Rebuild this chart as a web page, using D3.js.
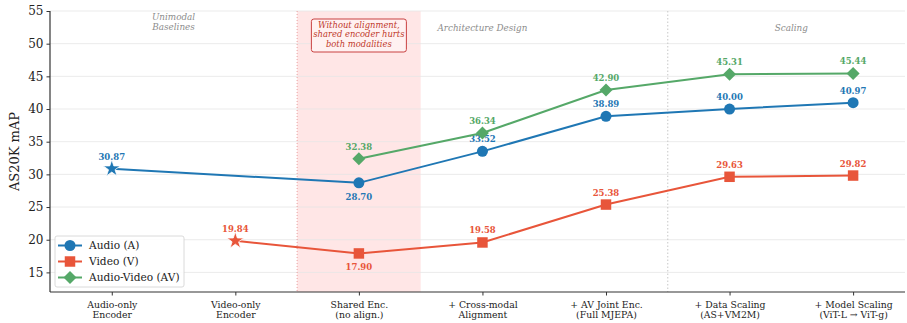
<!DOCTYPE html>
<html>
<head>
<meta charset="utf-8" />
<title>AS20K mAP</title>
<script src="https://d3js.org/d3.v7.min.js"></script>
<style>
body { margin: 0; background: #fff; }
svg, svg text { font-family: "DejaVu Serif", serif; }
.grid line { stroke: #e6e6e6; stroke-width: 0.8px; }
.axis path, .axis line { stroke: #333; }
.axis text { fill: #222; font-family: "DejaVu Serif", serif; }
</style>
</head>
<body>
<div id="chart"></div>
<script>
var stages = [
    ["Audio-only", "Encoder"],
    ["Video-only", "Encoder"],
    ["Shared Enc.", "(no align.)"],
    ["+ Cross-modal", "Alignment"],
    ["+ AV Joint Enc.", "(Full MJEPA)"],
    ["+ Data Scaling", "(AS+VM2M)"],
    ["+ Model Scaling", "(ViT-L \u2192 ViT-g)"]
];
var audioVals = [30.87, null, 28.70, 33.52, 38.89, 40.00, 40.97];
var videoVals = [null, 19.84, 17.90, 19.58, 25.38, 29.63, 29.82];
var avVals    = [null, null, 32.38, 36.34, 42.90, 45.31, 45.44];
var yTicks = [15, 20, 25, 30, 35, 40, 45, 50, 55];

var width = 907, height = 323;
var margin = {left: 50, right: 2, top: 11, bottom: 31};

var svg = d3.select("#chart").append("svg")
    .attr("width", width).attr("height", height);

var x = d3.scaleLinear().domain([-0.5, 6.42]).range([margin.left, width - margin.right]);
var y = d3.scaleLinear().domain([12, 55]).range([height - margin.bottom, margin.top]);

// shaded "no alignment" region
svg.append("rect")
    .attr("x", x(1.5)).attr("y", y(55))
    .attr("width", x(2.5) - x(1.5)).attr("height", y(12) - y(55))
    .style("fill", "#ffe6e6");

// grid
svg.append("g").attr("class", "grid").selectAll("line")
    .data(yTicks).enter().append("line")
    .attr("x1", x(-0.5)).attr("x2", x(6.42))
    .attr("y1", function(d) { return y(d); })
    .attr("y2", function(d) { return y(d); });

// section separators
svg.append("line")
    .attr("x1", x(1.5)).attr("x2", x(1.5)).attr("y1", y(55)).attr("y2", y(12))
    .style("stroke", "#e8a0a0").style("stroke-width", 1).style("stroke-dasharray", "1,2");
svg.append("line")
    .attr("x1", x(4.5)).attr("x2", x(4.5)).attr("y1", y(55)).attr("y2", y(12))
    .style("stroke", "#c8c8c8").style("stroke-width", 1).style("stroke-dasharray", "1.5,2");

// section labels
function sectionLabel(xi, lines, yy) {
    var t = svg.append("text")
        .attr("x", x(xi)).attr("y", yy)
        .attr("text-anchor", "middle")
        .style("font-size", "8.8px").style("font-style", "italic").style("fill", "#8c8c8c");
    lines.forEach(function(l, i) {
        t.append("tspan").attr("x", x(xi)).attr("dy", i ? 10.5 : 0).text(l);
    });
}
sectionLabel(0.5, ["Unimodal", "Baselines"], 19.5);
sectionLabel(3, ["Architecture Design"], 30.5);
sectionLabel(5.5, ["Scaling"], 30.5);

// annotation box
var ann = ["Without alignment,", "shared encoder hurts", "both modalities"];
svg.append("rect")
    .attr("x", x(2) - 47.5).attr("y", 19).attr("width", 95).attr("height", 33)
    .attr("rx", 2.5)
    .style("fill", "#fff1f1").style("stroke", "#c94040").style("stroke-width", 1);
var at = svg.append("text").attr("text-anchor", "middle")
    .style("font-size", "8.4px").style("font-style", "italic").style("fill", "#c0392b");
ann.forEach(function(l, i) {
    at.append("tspan").attr("x", x(2)).attr("y", 28 + i * 9.3).text(l);
});

// axes
var yAxis = svg.append("g").attr("class", "axis")
    .attr("transform", "translate(" + margin.left + ",0)")
    .call(d3.axisLeft(y).tickValues(yTicks).tickSize(3.5).tickPadding(3));
yAxis.attr("font-family", null);
yAxis.select(".domain").attr("d", "M0," + y(12) + "V" + y(55)).style("stroke-width", 1.2);
yAxis.selectAll("text").style("font-size", "12px");

var xAxis = svg.append("g").attr("class", "axis")
    .attr("transform", "translate(0," + y(12) + ")")
    .call(d3.axisBottom(x).tickValues(d3.range(stages.length)).tickSize(3.5).tickFormat(""));
xAxis.attr("font-family", null);
xAxis.select(".domain").attr("d", "M" + x(-0.5) + ",0H" + x(6.42)).style("stroke-width", 1.2);
xAxis.selectAll(".tick").each(function(d) {
    var t = d3.select(this).append("text")
        .attr("text-anchor", "middle").style("font-size", "9.3px").style("fill", "#222");
    stages[d].forEach(function(l, i) {
        t.append("tspan").attr("x", 0).attr("y", 15.5 + i * 10.3).text(l);
    });
});

svg.append("text")
    .attr("transform", "translate(19," + ((y(12) + y(55)) / 2) + ") rotate(-90)")
    .attr("text-anchor", "middle")
    .style("font-size", "13px").style("fill", "#222")
    .text("AS20K mAP");

// series
var series = [
    {name: "Audio (A)", vals: audioVals, color: "#1f77b4", shape: d3.symbolCircle, size: 95, rot: 0, star: 0, below: [2]},
    {name: "Video (V)", vals: videoVals, color: "#e8553a", shape: d3.symbolSquare, size: 110, rot: 0, star: 1, below: [2]},
    {name: "Audio-Video (AV)", vals: avVals, color: "#55a868", shape: d3.symbolSquare, size: 85, rot: 45, star: -1, below: []}
];

var line = d3.line()
    .defined(function(d) { return d.v != null; })
    .x(function(d) { return x(d.i); })
    .y(function(d) { return y(d.v); });

series.forEach(function(s) {
    var pts = s.vals.map(function(v, i) { return {i: i, v: v}; })
        .filter(function(d) { return d.v != null; });
    var g = svg.append("g");
    g.append("path").datum(pts).attr("d", line)
        .style("fill", "none").style("stroke", s.color).style("stroke-width", 2);
    g.selectAll("path.m").data(pts).enter().append("path")
        .attr("class", "m")
        .attr("transform", function(d) {
            var r = d.i === s.star ? 0 : s.rot;
            return "translate(" + x(d.i) + "," + y(d.v) + ") rotate(" + r + ")";
        })
        .attr("d", function(d) {
            return d.i === s.star ? d3.symbol(d3.symbolStar, 90)() : d3.symbol(s.shape, s.size)();
        })
        .style("fill", s.color)
        .style("stroke", function(d) { return d.i === s.star ? "#fff" : "none"; })
        .style("stroke-width", 0.8);
    g.selectAll("text").data(pts).enter().append("text")
        .attr("x", function(d) { return x(d.i); })
        .attr("y", function(d) { return s.below.indexOf(d.i) >= 0 ? y(d.v) + 17 : y(d.v) - 9; })
        .attr("text-anchor", "middle")
        .style("font-size", "8.5px").style("font-weight", "bold").style("fill", s.color)
        .text(function(d) { return d.v.toFixed(2); });
});

// legend
var lg = svg.append("g").attr("transform", "translate(55,236)");
lg.append("rect").attr("width", 129).attr("height", 51).attr("rx", 2)
    .style("fill", "#fff").style("fill-opacity", 0.85).style("stroke", "#d0d0d0").style("stroke-width", 0.8);
series.forEach(function(s, i) {
    var yy = 9.5 + i * 16;
    lg.append("line").attr("x1", 3).attr("x2", 27).attr("y1", yy).attr("y2", yy)
        .style("stroke", s.color).style("stroke-width", 2);
    lg.append("path").attr("transform", "translate(15," + yy + ") rotate(" + s.rot + ")")
        .attr("d", d3.symbol(s.shape, s.size)()).style("fill", s.color);
    lg.append("text").attr("x", 34).attr("y", yy + 3.8)
        .style("font-size", "10.6px").style("fill", "#222").text(s.name);
});
</script>
</body>
</html>
